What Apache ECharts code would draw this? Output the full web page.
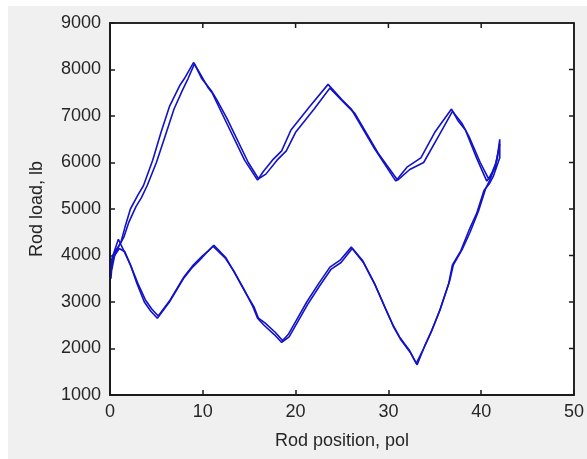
<!DOCTYPE html>
<html lang="en">
<head>
    <meta charset="utf-8">
    <title>Rod load vs rod position</title>
    <script src="https://cdn.jsdelivr.net/npm/echarts@6/dist/echarts.min.js"></script>
    <style>
        html, body { margin: 0; padding: 0; background: #fff; }
        #main { position: absolute; left: 8px; top: 6px; width: 579px; height: 453px; background: #f0f0f0; }
    </style>
</head>
<body>
<div id="main"></div>
<script type="text/javascript">
    // x ticks / y ticks
    var xTicks = [0, 10, 20, 30, 40, 50];
    var yTicks = [1000, 2000, 3000, 4000, 5000, 6000, 7000, 8000, 9000];

    // first stroke - upper branch (position, load)
    var upperA = [
        [0.1, 3500], [0.3, 4000], [0.8, 4150], [1.2, 4300], [1.6, 4600], [2.2, 5000], [3.0, 5300],
        [3.6, 5500], [4.6, 6050], [5.5, 6650], [6.4, 7200], [7.5, 7650], [8.0, 7800], [9.0, 8150],
        [9.6, 7950], [10.6, 7600], [11.0, 7500], [12.2, 7000], [14.5, 6050], [15.9, 5620],
        [16.5, 5800], [17.5, 6050], [18.5, 6250], [19.5, 6700], [21.5, 7200], [23.5, 7680],
        [25.0, 7350], [26.0, 7150], [28.5, 6300], [30.8, 5600], [32.0, 5900], [33.5, 6100],
        [35.0, 6650], [36.8, 7150], [37.5, 6900], [38.3, 6700], [39.5, 6100], [40.6, 5600],
        [41.0, 5700], [41.5, 5900], [41.8, 6200], [42.0, 6500], [42.0, 6100], [41.3, 5700]
    ];
    // first stroke - lower branch
    var lowerA = [
        [40.9, 5550], [40.3, 5400], [39.5, 4900], [38.7, 4550], [37.8, 4100], [36.9, 3800],
        [36.5, 3400], [35.5, 2800], [34.6, 2350], [33.8, 2000], [33.0, 1680], [32.3, 1950],
        [31.2, 2250], [30.5, 2500], [29.6, 2900], [28.5, 3400], [27.2, 3900], [26.0, 4180],
        [24.8, 3900], [23.7, 3750], [22.5, 3400], [21.2, 3000], [20.2, 2650], [19.2, 2300],
        [18.6, 2170], [17.8, 2350], [16.7, 2550], [16.0, 2650], [15.5, 2900], [14.6, 3200],
        [13.5, 3600], [12.5, 3950], [11.2, 4220], [10.6, 4100], [10.0, 4000], [9.0, 3800],
        [8.0, 3550], [6.5, 3050], [5.2, 2700], [4.5, 2850], [3.8, 3050], [3.0, 3400],
        [2.3, 3750], [1.6, 4080], [1.0, 4150], [0.5, 4000], [0.1, 3800], [0.0, 3500]
    ];
    // second stroke - upper branch
    var upperB = [
        [0.2, 3700], [0.6, 4100], [1.1, 4250], [1.5, 4400], [2.0, 4700], [2.8, 5050], [3.4, 5250],
        [4.0, 5500], [5.0, 6000], [6.0, 6600], [6.9, 7150], [7.8, 7550], [8.4, 7800], [9.1, 8120],
        [9.9, 7800], [10.9, 7550], [11.5, 7350], [12.6, 6950], [14.9, 6000], [16.0, 5650],
        [16.8, 5750], [18.0, 6050], [19.0, 6250], [20.0, 6650], [22.0, 7150], [23.7, 7600],
        [25.4, 7250], [26.4, 7050], [28.9, 6200], [31.0, 5620], [32.3, 5850], [33.8, 6000],
        [35.5, 6600], [36.9, 7100], [37.9, 6850], [38.7, 6550], [39.9, 6000], [40.8, 5650],
        [41.2, 5800], [41.6, 6000], [42.0, 6400], [41.7, 6050]
    ];
    // second stroke - lower branch
    var lowerB = [
        [41.0, 5650], [40.5, 5450], [39.7, 4950], [38.8, 4500], [38.0, 4150], [37.0, 3800],
        [36.6, 3450], [35.6, 2850], [34.7, 2400], [33.9, 2050], [33.1, 1650], [32.4, 1900],
        [31.3, 2200], [30.6, 2450], [29.7, 2850], [28.6, 3350], [27.3, 3850], [26.1, 4150],
        [24.9, 3850], [23.8, 3700], [22.6, 3350], [21.3, 2950], [20.3, 2600], [19.3, 2250],
        [18.5, 2130], [17.7, 2300], [16.6, 2500], [15.9, 2650], [15.4, 2900], [14.5, 3250],
        [13.4, 3650], [12.4, 3950], [11.1, 4200], [10.5, 4080], [9.9, 3950], [8.9, 3750],
        [7.9, 3500], [6.4, 3000], [5.1, 2650], [4.4, 2800], [3.7, 3000], [2.9, 3400],
        [2.2, 3800], [1.5, 4100], [0.9, 4350], [0.4, 4050], [0.0, 3800]
    ];

    var myChart = echarts.init(document.getElementById('main'));

    var font = 'Liberation Sans';
    var textCol = '#262626';
    var lineBlue = '#1212c8';
    var frameCol = '#1a1a1a';

    var option = {
        animation: false,
        grid: {
            left: 102, right: 10, top: 17, bottom: 64,
            show: true, backgroundColor: '#fff', borderWidth: 1.5, borderColor: frameCol
        },
        xAxis: {
            type: 'value', min: xTicks[0], max: xTicks[xTicks.length - 1], interval: 10,
            name: 'Rod position, pol', nameLocation: 'middle', nameGap: 37,
            nameTextStyle: { fontFamily: font, fontSize: 18, color: textCol },
            axisLine: { show: true, onZero: false, lineStyle: { color: frameCol, width: 1.5 } },
            axisTick: { show: true, inside: true, length: 5, lineStyle: { color: frameCol, width: 1.5 } },
            splitLine: { show: false },
            axisLabel: { margin: 8, fontFamily: font, fontSize: 18, color: textCol }
        },
        yAxis: {
            type: 'value', min: yTicks[0], max: yTicks[yTicks.length - 1], interval: 1000,
            name: 'Rod load, lb', nameLocation: 'middle', nameGap: 64,
            nameTextStyle: { fontFamily: font, fontSize: 18, color: textCol },
            axisLine: { show: true, lineStyle: { color: frameCol, width: 1.5 } },
            axisTick: { show: true, inside: true, length: 5, lineStyle: { color: frameCol, width: 1.5 } },
            splitLine: { show: false },
            axisLabel: {
                margin: 9, fontFamily: font, fontSize: 18, color: textCol,
                formatter: function (v) { return String(v); }
            }
        },
        series: [{
            type: 'line',
            showSymbol: false,
            data: upperA.concat(lowerA),
            lineStyle: { color: lineBlue, width: 1.6 },
            itemStyle: { color: lineBlue }
        }, {
            type: 'line',
            showSymbol: false,
            data: upperB.concat(lowerB),
            lineStyle: { color: lineBlue, width: 1.6 },
            itemStyle: { color: lineBlue }
        }]
    };

    myChart.setOption(option);

    // box outline plus tick marks on the top and right edges
    var tl = myChart.convertToPixel({ gridIndex: 0 }, [xTicks[0], yTicks[yTicks.length - 1]]);
    var br = myChart.convertToPixel({ gridIndex: 0 }, [xTicks[xTicks.length - 1], yTicks[0]]);
    var marks = [{
        type: 'rect', silent: true, z: 100,
        shape: { x: tl[0], y: tl[1], width: br[0] - tl[0], height: br[1] - tl[1] },
        style: { fill: null, stroke: frameCol, lineWidth: 1.5 }
    }];
    xTicks.slice(1, -1).forEach(function (v) {
        var p = myChart.convertToPixel({ gridIndex: 0 }, [v, yTicks[yTicks.length - 1]]);
        marks.push({ type: 'line', silent: true, z: 100, shape: { x1: p[0], y1: p[1], x2: p[0], y2: p[1] + 5 }, style: { stroke: frameCol, lineWidth: 1.5 } });
    });
    yTicks.slice(1, -1).forEach(function (v) {
        var p = myChart.convertToPixel({ gridIndex: 0 }, [xTicks[xTicks.length - 1], v]);
        marks.push({ type: 'line', silent: true, z: 100, shape: { x1: p[0], y1: p[1], x2: p[0] - 5, y2: p[1] }, style: { stroke: frameCol, lineWidth: 1.5 } });
    });
    myChart.setOption({ graphic: marks });
</script>
</body>
</html>
